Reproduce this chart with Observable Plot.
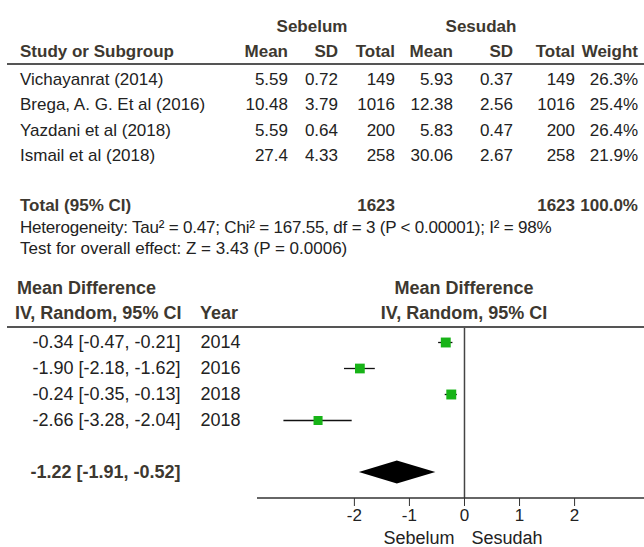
<!DOCTYPE html>
<html><head><meta charset="utf-8">
<script src="https://cdn.jsdelivr.net/npm/d3@7"></script>
<script src="https://cdn.jsdelivr.net/npm/@observablehq/plot@0.6"></script>
<style>
body{margin:0;background:#fff;}
#wrap{position:relative;width:644px;height:547px;font-family:"Liberation Sans",Arial,sans-serif;font-size:17px;color:#222;overflow:hidden;background:#fff}
#wrap svg{position:absolute;left:0;top:0}
.t{position:absolute;white-space:nowrap;line-height:20px}
.b{font-weight:bold;color:#3d3830}
.f{font-size:18px}
.hl{position:absolute;left:7px;right:0;height:2px;background:#555}
</style></head><body><div id="wrap"></div>
<script>
// ---- data ----
const studies = ["Vichayanrat (2014)", "Brega, A. G. Et al (2016)", "Yazdani et al (2018)", "Ismail et al (2018)"];
const years = [2014, 2016, 2018, 2018];
const meanBefore = [5.59, 10.48, 5.59, 27.4];
const sdBefore = [0.72, 3.79, 0.64, 4.33];
const nBefore = [149, 1016, 200, 258];
const meanAfter = [5.93, 12.38, 5.83, 30.06];
const sdAfter = [0.37, 2.56, 0.47, 2.67];
const nAfter = [149, 1016, 200, 258];
const weights = [26.3, 25.4, 26.4, 21.9];
const md = [-0.34, -1.90, -0.24, -2.66];
const ciLo = [-0.47, -2.18, -0.35, -3.28];
const ciHi = [-0.21, -1.62, -0.13, -2.04];
const totalN = [1623, 1623];
const totalWeight = 100.0;
const totalEst = {md: -1.22, lo: -1.91, hi: -0.52};
const heterogeneity = "Heterogeneity: Tau\u00b2 = 0.47; Chi\u00b2 = 167.55, df = 3 (P < 0.00001); I\u00b2 = 98%";
const overallTest = "Test for overall effect: Z = 3.43 (P = 0.0006)";
const groupLabels = ["Sebelum", "Sesudah"];
const xTicks = [-2, -1, 0, 1, 2];

// ---- layout ----
const W = 644, H = 547;
const colRight = [288, 338, 395, 453, 513, 575, 638];
const wrap = document.getElementById("wrap");
const f2 = v => v.toFixed(2);
const ciText = (m, l, h) => `${f2(m)} [${f2(l)}, ${f2(h)}]`;

const rows = studies.map((s, i) => ({key: String(i), md: md[i], lo: ciLo[i], hi: ciHi[i], w: weights[i],
  label: ciText(md[i], ciLo[i], ciHi[i]), year: String(years[i])}));
const yDomain = [...rows.map(d => d.key), "gap", "total"];

const axisLine = (index, scales, values, dims) => {
  const y = dims.height - dims.marginBottom;
  return d3.create("svg:line").attr("x1", dims.marginLeft).attr("x2", dims.width - dims.marginRight)
    .attr("y1", y).attr("y2", y).attr("stroke", "#333").attr("stroke-width", 1.5).node();
};
const diamond = (index, scales) => {
  const x = scales.x, cy = scales.y("total"), h = 11.5;
  const pts = [[x(totalEst.lo), cy], [x(totalEst.md), cy - h], [x(totalEst.hi), cy], [x(totalEst.md), cy + h]];
  return d3.create("svg:polygon").attr("points", pts.map(p => p.join(",")).join(" ")).attr("fill", "#000").node();
};

const chart = Plot.plot({
  width: W, height: H,
  marginTop: 327, marginBottom: 49, marginLeft: 257, marginRight: 0,
  style: {background: "transparent", fontFamily: "'Liberation Sans', Arial, sans-serif", fontSize: "17px", color: "#222"},
  x: {domain: [-3.76, 3.27]},
  y: {type: "point", domain: yDomain, range: [342, 472], padding: 0, axis: null},
  r: {type: "sqrt", domain: [0, 26.4], range: [0, 5.6]},
  marks: [
    Plot.ruleX([0], {stroke: "#444", strokeWidth: 1.5}),
    axisLine,
    Plot.ruleY(rows, {y: "key", x1: "lo", x2: "hi", stroke: "#111", strokeWidth: 1.3}),
    Plot.dot(rows, {x: "md", y: "key", r: "w", symbol: "square", fill: "#17b317", stroke: null}),
    diamond,
    Plot.text(rows, {y: "key", text: "label", frameAnchor: "left", textAnchor: "end", dx: -77, fontSize: 18, fill: "#222"}),
    Plot.text(rows, {y: "key", text: "year", frameAnchor: "left", textAnchor: "start", dx: -57, fontSize: 18, fill: "#222"}),
    Plot.text([totalEst], {y: () => "total", text: d => ciText(d.md, d.lo, d.hi), frameAnchor: "left", textAnchor: "end", dx: -77, fontSize: 18, fontWeight: "bold", fill: "#3d3830"}),
    Plot.axisX({ticks: xTicks, tickSize: 8, tickPadding: 2, tickFormat: d => String(d), fontSize: 17, stroke: "#333", fill: "#222"}),
    Plot.text([groupLabels[0]], {x: () => 0, frameAnchor: "bottom", lineAnchor: "middle", textAnchor: "end", dx: -10, dy: 40, fontSize: 18, fill: "#222"}),
    Plot.text([groupLabels[1]], {x: () => 0, frameAnchor: "bottom", lineAnchor: "middle", textAnchor: "start", dx: 7, dy: 40, fontSize: 18, fill: "#222"})
  ]
});
wrap.appendChild(chart);

function put(text, {x, right, center, y, bold, cls}) {
  const d = document.createElement("div");
  d.className = "t" + (bold ? " b" : "") + (cls ? " " + cls : "");
  d.textContent = text;
  d.style.top = (y - 10) + "px";
  if (center != null) { d.style.left = center + "px"; d.style.transform = "translateX(-50%)"; }
  else if (right != null) { d.style.right = (W - right) + "px"; }
  else d.style.left = x + "px";
  wrap.appendChild(d);
  return d;
}
function hline(y) { const d = document.createElement("div"); d.className = "hl"; d.style.top = (y - 1) + "px"; wrap.appendChild(d); }

// top table
put(groupLabels[0], {center: 312, y: 27, bold: true});
put(groupLabels[1], {center: 481, y: 27, bold: true});
put("Study or Subgroup", {x: 20, y: 52, bold: true});
["Mean", "SD", "Total", "Mean", "SD", "Total", "Weight"].forEach((h, j) => put(h, {right: colRight[j], y: 52, bold: true}));
hline(64);
studies.forEach((s, i) => {
  const y = 80 + i * 25.3;
  put(s, {x: 20, y});
  const vals = [String(meanBefore[i]), String(sdBefore[i]), String(nBefore[i]), String(meanAfter[i]), String(sdAfter[i]), String(nAfter[i]), weights[i].toFixed(1) + "%"];
  vals.forEach((v, j) => put(v, {right: colRight[j], y}));
});
put("Total (95% CI)", {x: 20, y: 206, bold: true});
put(String(totalN[0]), {right: colRight[2], y: 206, bold: true});
put(String(totalN[1]), {right: colRight[5], y: 206, bold: true});
put(totalWeight.toFixed(1) + "%", {right: colRight[6], y: 206, bold: true});
put(heterogeneity, {x: 20, y: 228}).style.letterSpacing = "-0.2px";
put(overallTest, {x: 20, y: 249});

// forest header
put("Mean Difference", {x: 17, y: 288, bold: true, cls: "f"});
put("IV, Random, 95% CI", {x: 15, y: 313, bold: true, cls: "f"});
put("Year", {x: 200, y: 313, bold: true, cls: "f"});
put("Mean Difference", {center: 464, y: 288, bold: true, cls: "f"});
put("IV, Random, 95% CI", {center: 464, y: 313, bold: true, cls: "f"});
hline(327);
</script></body></html>
